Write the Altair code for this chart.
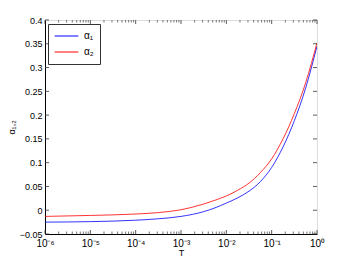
import altair as alt
import pandas as pd
import math

# Data
T = [1e-6, 1e-5, 1e-4, 3.16e-4, 1e-3, 3.16e-3, 5.62e-3, 1e-2, 1.78e-2, 3.16e-2, 5.62e-2, 0.1, 0.178, 0.316, 0.562, 1.0]
alpha1 = [-0.025, -0.024, -0.021, -0.018, -0.013, -0.003, 0.005, 0.015, 0.026, 0.040, 0.060, 0.090, 0.133, 0.188, 0.257, 0.345]
alpha2 = [-0.013, -0.011, -0.008, -0.005, 0.001, 0.013, 0.021, 0.030, 0.042, 0.057, 0.079, 0.108, 0.150, 0.203, 0.268, 0.352]
series_names = ["α₁", "α₂"]
series_colors = ["#0000ff", "#ff0000"]

x_major = [1e-6, 1e-5, 1e-4, 1e-3, 1e-2, 1e-1, 1.0]
x_labels = ["10⁻⁶", "10⁻⁵", "10⁻⁴", "10⁻³", "10⁻²", "10⁻¹", "10⁰"]
y_ticks = [-0.05, 0, 0.05, 0.1, 0.15, 0.2, 0.25, 0.3, 0.35, 0.4]

W, H = 272, 214

rows = []
for t, a, b in zip(T, alpha1, alpha2):
    rows.append({"T": t, "v": a, "s": series_names[0]})
    rows.append({"T": t, "v": b, "s": series_names[1]})
df = pd.DataFrame(rows)

minor = []
for d in x_major[:-1]:
    for k in range(2, 10):
        minor.append(d * k)
df_minor = pd.DataFrame({"T": minor})
df_major = pd.DataFrame({"T": x_major})
df_y = pd.DataFrame({"y": y_ticks})

label_expr = "''"
for v, lab in reversed(list(zip(x_major, x_labels))):
    label_expr = f"(abs(log(datum.value)/log(10) - ({math.log10(v)})) < 0.01 ? '{lab}' : {label_expr})"

xscale = alt.Scale(type="log", domain=[1e-6, 1], nice=False)
yscale = alt.Scale(domain=[-0.05, 0.4], nice=False, zero=False)

xaxis = alt.Axis(values=x_major, labelExpr=label_expr, ticks=False, grid=False,
                 domainColor="black", labelFont="Liberation Sans", labelFontSize=10,
                 labelColor="black", labelPadding=4, labelOverlap=False,
                 titleFont="Liberation Sans", titleColor="black",
                 titleFontSize=9, titleFontWeight="normal", titlePadding=0,
                 labelFlush=False)
yaxis = alt.Axis(values=y_ticks, format=".2~f", ticks=False, grid=False,
                 domainColor="black", labelFont="Liberation Sans", labelFontSize=9,
                 labelColor="black", labelPadding=3, labelOverlap=False,
                 labelFlush=False,
                 titleFont="Liberation Sans", titleColor="black",
                 titleFontSize=9, titleFontWeight="normal", titleX=-29)

lines = alt.Chart(df).mark_line(strokeWidth=0.8, interpolate="monotone", clip=True).encode(
    x=alt.X("T:Q", scale=xscale, title="T", axis=xaxis),
    y=alt.Y("v:Q", scale=yscale, title="α₁,₂", axis=yaxis),
    color=alt.Color("s:N", scale=alt.Scale(domain=series_names, range=series_colors),
                    legend=alt.Legend(title=None, orient="none", legendX=3, legendY=4,
                                      strokeColor="#333", fillColor="white", padding=6,
                                      symbolType="stroke", symbolSize=560, symbolStrokeWidth=1,
                                      clipHeight=12,
                                      labelFont="Liberation Sans", labelFontSize=10,
                                      rowPadding=4, labelOffset=5)),
)

def xt(df_, y1, y2, col):
    return alt.Chart(df_).mark_rule(color=col, strokeWidth=0.8).encode(
        x=alt.X("T:Q", scale=xscale, title="T", axis=xaxis), y=alt.value(y1), y2=alt.value(y2))

def yt(x1, x2):
    return alt.Chart(df_y).mark_rule(color="#333", strokeWidth=0.8).encode(
        y=alt.Y("y:Q", scale=yscale, title="α₁,₂", axis=yaxis), x=alt.value(x1), x2=alt.value(x2))

ticks = [
    xt(df_major, H, H - 4, "#333"), xt(df_major, 0, 4, "#333"),
    xt(df_minor, H, H - 2.5, "#555"), xt(df_minor, 0, 2.5, "#555"),
    yt(0, 4), yt(W, W - 4),
]

chart = alt.layer(lines, *ticks).properties(
    width=W, height=H, autosize=alt.AutoSizeParams(type="none"),
    padding={"left": 37, "top": 12, "right": 25, "bottom": 22},
).configure_view(stroke="#444", strokeWidth=1).configure(background="white"
).configure_axis(labelOverlap=False)

chart.save("out.html", embed_options={"renderer": "svg", "actions": False})
